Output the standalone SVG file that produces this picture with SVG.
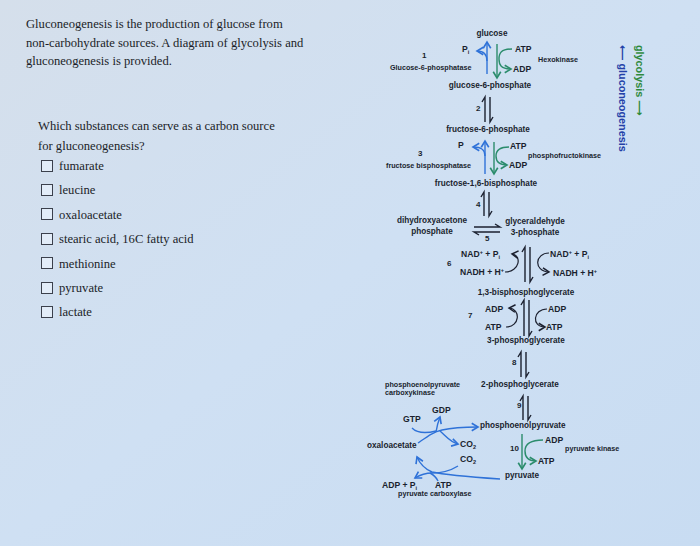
<svg xmlns="http://www.w3.org/2000/svg" width="700" height="546" viewBox="0 0 700 546">
<defs>
<linearGradient id="bg" x1="0" y1="0" x2="1" y2="1">
<stop offset="0" stop-color="#d5dfeb"/>
<stop offset="0.5" stop-color="#cfe0f3"/>
<stop offset="1" stop-color="#c8dcf2"/>
</linearGradient>
<marker id="mb" markerUnits="userSpaceOnUse" markerWidth="10" markerHeight="10" refX="5" refY="3" orient="auto" viewBox="-1 -1 8 8"><path d="M0,0 L5,3 L0,6" fill="none" stroke="#2f72d8" stroke-width="1.3"/></marker>
<marker id="mg" markerUnits="userSpaceOnUse" markerWidth="10" markerHeight="10" refX="5" refY="3" orient="auto" viewBox="-1 -1 8 8"><path d="M0,0 L5,3 L0,6" fill="none" stroke="#2b8c6c" stroke-width="1.3"/></marker>
<marker id="mk" markerUnits="userSpaceOnUse" markerWidth="10" markerHeight="10" refX="5" refY="3" orient="auto" viewBox="-1 -1 8 8"><path d="M0,0 L5,3 L0,6" fill="none" stroke="#1c2130" stroke-width="1.2"/></marker>
</defs>
<style>
.q{font-family:"Liberation Serif","Times New Roman",serif;font-size:12.6px;fill:#1b1e28}
.cmp{font-family:"Liberation Sans",Arial,sans-serif;font-weight:bold;font-size:8.2px;fill:#1a1f2e}
.enz{font-family:"Liberation Sans",Arial,sans-serif;font-weight:bold;font-size:7.2px;fill:#1a1f2e}
.cof{font-family:"Liberation Sans",Arial,sans-serif;font-weight:bold;font-size:8.6px;fill:#1a1f2e}
.num{font-family:"Liberation Sans",Arial,sans-serif;font-weight:bold;font-size:8px;fill:#1a1f2e}
.box{fill:#e2ecf8;stroke:#3b404c;stroke-width:1}
.bl{fill:none;stroke:#2f72d8;stroke-width:1.4}
.gr{fill:none;stroke:#2b8c6c;stroke-width:1.4}
.bk{fill:none;stroke:#1c2130;stroke-width:1.2}
.eq{fill:none;stroke:#1c2130;stroke-width:1.4}
.side{font-family:"Liberation Sans","DejaVu Sans",sans-serif;font-weight:bold;font-size:10.8px}
</style>
<rect x="0" y="0" width="700" height="546" fill="url(#bg)"/>

<g id="intro">
<text class="q" x="26" y="28">Gluconeogenesis is the production of glucose from</text>
<text class="q" x="26" y="47">non-carbohydrate sources. A diagram of glycolysis and</text>
<text class="q" x="26" y="65">gluconeogenesis is provided.</text>
</g>
<g id="question">
<text class="q" x="38" y="130">Which substances can serve as a carbon source</text>
<text class="q" x="38" y="150">for gluconeogenesis?</text>
</g>
<g id="opt-fumarate"><rect class="box" x="41.5" y="160.5" width="11" height="11"/><text class="q" x="59" y="170">fumarate</text></g>
<g id="opt-leucine"><rect class="box" x="41.5" y="184.5" width="11" height="11"/><text class="q" x="59" y="194">leucine</text></g>
<g id="opt-oxaloacetate"><rect class="box" x="41.5" y="208.5" width="11" height="11"/><text class="q" x="59" y="218.5">oxaloacetate</text></g>
<g id="opt-stearic"><rect class="box" x="41.5" y="233.5" width="11" height="11"/><text class="q" x="59" y="243">stearic acid, 16C fatty acid</text></g>
<g id="opt-methionine"><rect class="box" x="41.5" y="257.5" width="11" height="11"/><text class="q" x="59" y="267.5">methionine</text></g>
<g id="opt-pyruvate"><rect class="box" x="41.5" y="282.5" width="11" height="11"/><text class="q" x="59" y="292">pyruvate</text></g>
<g id="opt-lactate"><rect class="box" x="41.5" y="306.5" width="11" height="11"/><text class="q" x="59" y="316">lactate</text></g>

<g id="direction-labels">
<text class="side" fill="#2e8a3c" transform="translate(636,45) rotate(90)">glycolysis  ⟶</text>
<text class="side" fill="#2340a8" transform="translate(619,45) rotate(90)" font-size="11.2">⟵ gluconeogenesis</text>
</g>

<g id="connectors">
<!-- step 1 -->
<path class="bl" d="M487,74 L487,42" marker-end="url(#mb)"/>
<path class="bl" d="M487,61 C487,54 484,51 477,51" marker-end="url(#mb)"/>
<path class="gr" d="M497,44 L497,78" marker-end="url(#mg)"/>
<path class="gr" d="M512,49 C501,49 499,53 499,59 C499,65 501,69 511,69" marker-end="url(#mg)"/>
<!-- step 2 -->
<path class="eq" d="M485,122 L485,97 L482,102"/>
<path class="eq" d="M490,97 L490,122 L493,117"/>
<!-- step 3 -->
<path class="bl" d="M485,174 L485,141" marker-end="url(#mb)"/>
<path class="bl" d="M485,156 C485,150 482,147 473,147" marker-end="url(#mb)"/>
<path class="gr" d="M494,142 L494,174" marker-end="url(#mg)"/>
<path class="gr" d="M509,147 C499,147 496,151 496,156 C496,161 499,165 507,165" marker-end="url(#mg)"/>
<!-- step 4 -->
<path class="eq" d="M484,216 L484,192 L481,197"/>
<path class="eq" d="M489,192 L489,216 L492,211"/>
<!-- step 5 -->
<path class="eq" d="M474,227 L500,227 L495,224"/>
<path class="eq" d="M500,232 L474,232 L479,235"/>
<!-- step 6 -->
<path class="eq" d="M525,282 L525,247 L522,252"/>
<path class="eq" d="M530,247 L530,282 L533,277"/>
<path class="bk" d="M505,272 C520,272 522,255 512,254" marker-end="url(#mk)"/>
<path class="bk" d="M549,253 C535,253 533,271 549,272" marker-end="url(#mk)"/>
<!-- step 7 -->
<path class="eq" d="M524,336 L524,300 L521,305"/>
<path class="eq" d="M529,300 L529,336 L532,331"/>
<path class="bk" d="M506,327 C520,327 521,309 509,308" marker-end="url(#mk)"/>
<path class="bk" d="M547,309 C533,309 531,327 545,327" marker-end="url(#mk)"/>
<!-- step 8 -->
<path class="eq" d="M521,377 L521,352 L518,357"/>
<path class="eq" d="M526,352 L526,377 L529,372"/>
<!-- step 9 -->
<path class="eq" d="M523,420 L523,396 L520,401"/>
<path class="eq" d="M528,396 L528,420 L531,415"/>
<!-- step 10 -->
<path class="gr" d="M522,434 L522,469" marker-end="url(#mg)"/>
<path class="gr" d="M543,440 C529,440 525,445 525,451 C525,457 528,461 536,461" marker-end="url(#mg)"/>
<!-- PEP carboxykinase -->
<path class="bl" d="M418,443 C428,436 433,432 442,430 C455,427 465,427 478,427" marker-end="url(#mb)"/>
<path class="bl" d="M412,428 C416,432 424,434 436,431"/>
<path class="bl" d="M436,432 C437,426 438,422 440,417" marker-end="url(#mb)"/>
<path class="bl" d="M440,431 C446,436 450,442 458,444" marker-end="url(#mb)"/>
<!-- pyruvate carboxylase -->
<path class="bl" d="M500,479 C470,477 445,475 432,472 C425,469 420,464 417,457" marker-end="url(#mb)"/>
<path class="bl" d="M458,466 C450,471 442,473 432,473"/>
<path class="bl" d="M432,473 C426,473 420,475 415,478" marker-end="url(#mb)"/>
<path class="bl" d="M438,481 C436,477 434,475 430,473"/>
</g>

<g id="glucose"><text class="cmp" x="492" y="36" text-anchor="middle">glucose</text></g>
<g id="step1">
<text class="num" x="422" y="58">1</text>
<text class="enz" x="390" y="70">Glucose-6-phosphatase</text>
<text class="cof" x="462" y="52">P<tspan font-size="5.5" dy="2">i</tspan></text>
<text class="cof" x="515" y="52">ATP</text>
<text class="cof" x="513" y="72">ADP</text>
<text class="enz" x="538" y="62">Hexokinase</text>
</g>
<g id="g6p"><text class="cmp" x="490" y="88" text-anchor="middle">glucose-6-phosphate</text></g>
<g id="step2"><text class="num" x="476" y="111">2</text></g>
<g id="f6p"><text class="cmp" x="488" y="132" text-anchor="middle">fructose-6-phosphate</text></g>
<g id="step3">
<text class="num" x="418" y="156">3</text>
<text class="enz" x="386" y="168">fructose bisphosphatase</text>
<text class="cof" x="458" y="148">P</text>
<text class="cof" x="510" y="149">ATP</text>
<text class="cof" x="509" y="168">ADP</text>
<text class="enz" x="528" y="158">phosphofructokinase</text>
</g>
<g id="f16bp"><text class="cmp" x="486" y="186" text-anchor="middle">fructose-1,6-bisphosphate</text></g>
<g id="step4"><text class="num" x="476" y="207">4</text></g>
<g id="dhap"><text class="cmp" x="432" y="223" text-anchor="middle">dihydroxyacetone</text><text class="cmp" x="432" y="234" text-anchor="middle">phosphate</text></g>
<g id="g3p"><text class="cmp" x="535" y="224" text-anchor="middle">glyceraldehyde</text><text class="cmp" x="535" y="235" text-anchor="middle">3-phosphate</text></g>
<g id="step5"><text class="num" x="485" y="241">5</text></g>
<g id="step6">
<text class="num" x="447" y="266">6</text>
<text class="cof" x="461" y="257">NAD<tspan font-size="5.5" dy="-3">+</tspan><tspan dy="3"> + P</tspan><tspan font-size="5.5" dy="2">i</tspan></text>
<text class="cof" x="460" y="275">NADH + H<tspan font-size="5.5" dy="-3">+</tspan></text>
<text class="cof" x="550" y="257">NAD<tspan font-size="5.5" dy="-3">+</tspan><tspan dy="3"> + P</tspan><tspan font-size="5.5" dy="2">i</tspan></text>
<text class="cof" x="553" y="276">NADH + H<tspan font-size="5.5" dy="-3">+</tspan></text>
</g>
<g id="bpg"><text class="cmp" x="526" y="295" text-anchor="middle">1,3-bisphosphoglycerate</text></g>
<g id="step7">
<text class="num" x="468" y="318">7</text>
<text class="cof" x="485" y="312">ADP</text>
<text class="cof" x="485" y="330">ATP</text>
<text class="cof" x="548" y="312">ADP</text>
<text class="cof" x="546" y="330">ATP</text>
</g>
<g id="pg3"><text class="cmp" x="526" y="343" text-anchor="middle">3-phosphoglycerate</text></g>
<g id="step8"><text class="num" x="512" y="365">8</text></g>
<g id="pg2"><text class="cmp" x="520" y="387" text-anchor="middle">2-phosphoglycerate</text></g>
<g id="pepck">
<text class="enz" x="385" y="387">phosphoenolpyruvate</text>
<text class="enz" x="385" y="395">carboxykinase</text>
<text class="cof" x="432" y="413">GDP</text>
<text class="cof" x="403" y="422">GTP</text>
<text class="cof" x="460" y="447">CO<tspan font-size="5.5" dy="2">2</tspan></text>
</g>
<g id="step9"><text class="num" x="517" y="408">9</text></g>
<g id="pep"><text class="cmp" x="480" y="428">phosphoenolpyruvate</text></g>
<g id="oxaloacetate"><text class="cmp" x="367" y="448">oxaloacetate</text></g>
<g id="step10">
<text class="num" x="510" y="451">10</text>
<text class="cof" x="545" y="443">ADP</text>
<text class="cof" x="538" y="464">ATP</text>
<text class="enz" x="565" y="451">pyruvate kinase</text>
</g>
<g id="pyruvate"><text class="cmp" x="505" y="478">pyruvate</text></g>
<g id="pc">
<text class="cof" x="460" y="462">CO<tspan font-size="5.5" dy="2">2</tspan></text>
<text class="cof" x="382" y="488">ADP + P<tspan font-size="5.5" dy="2">i</tspan></text>
<text class="cof" x="435" y="488">ATP</text>
<text class="enz" x="398" y="496">pyruvate carboxylase</text>
</g>
</svg>
